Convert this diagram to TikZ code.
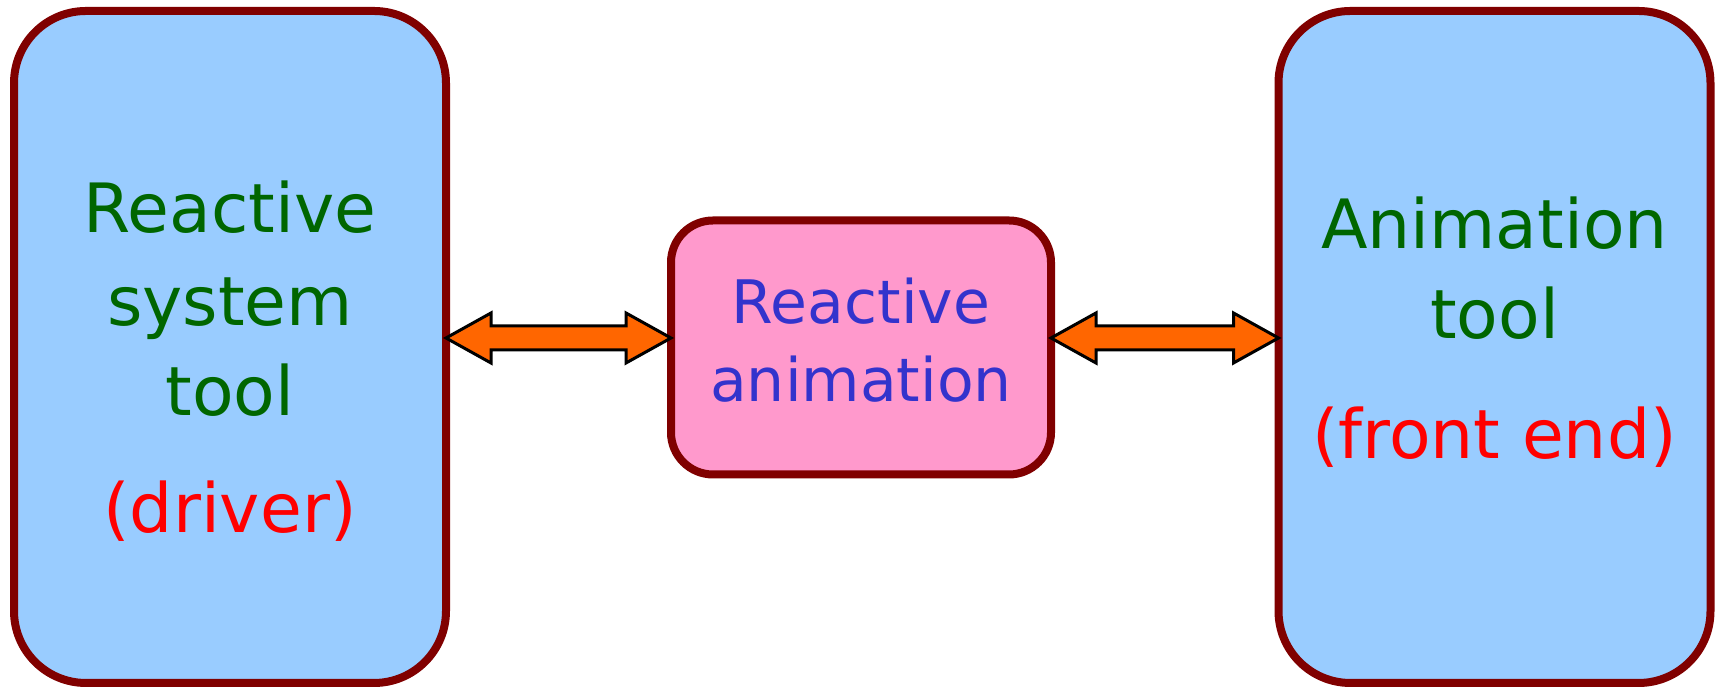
\documentclass[tikz,border=0pt]{standalone}
\usepackage{fontspec}
\setmainfont{DejaVu Sans}
\usetikzlibrary{calc}
\definecolor{boxblue}{HTML}{99CCFF}
\definecolor{boxedge}{HTML}{800000}
\definecolor{boxpink}{HTML}{FF99CC}
\definecolor{titlegreen}{HTML}{006600}
\definecolor{titleblue}{HTML}{3333CC}
\definecolor{arroworange}{HTML}{FF6600}
% block double arrow between two points #1 (left tip) and #2 (right tip)
\newcommand\twoheadpath[2]{%
  (#1) -- ($(#1)+(45,25)$) -- ($(#1)+(45,12)$) -- ($(#2)+(-45,12)$) --
  ($(#2)+(-45,25)$) -- (#2) -- ($(#2)+(-45,-25)$) -- ($(#2)+(-45,-12)$) --
  ($(#1)+(45,-12)$) -- ($(#1)+(45,-25)$) -- cycle}
\begin{document}
\begin{tikzpicture}[x=0.5pt,y=0.5pt,
  toolbox/.style={draw=boxedge, line width=4pt, fill=boxblue, rounded corners=36pt,
    minimum width=216pt, minimum height=336pt, outer sep=0pt, inner sep=0pt},
  animbox/.style={draw=boxedge, line width=4pt, fill=boxpink, rounded corners=21pt,
    minimum width=190pt, minimum height=127pt, outer sep=0pt, inner sep=0pt},
  bigtext/.style={anchor=base, inner sep=0pt, font=\fontsize{34}{40}\selectfont, text=titlegreen},
  note/.style={bigtext, text=red},
  midtext/.style={anchor=base, inner sep=0pt, font=\fontsize{30}{36}\selectfont, text=titleblue},
  dblarrow/.style={draw=black, line width=1.5pt, fill=arroworange, line join=miter}]
\useasboundingbox (0,0) rectangle (1715,688);

% the three blocks
\node[toolbox] (L) at (230,341) {};
\node[toolbox] (R) at (1494.5,341) {};
\node[animbox] (M) at (861,340.5) {};

% left block text
\node[bigtext] (l1) at (230,455) {Reactive};
\node[bigtext] (l2) at (230,362) {system};
\node[bigtext] (l3) at (230,272) {tool};
\node[note] (l4) at (230,155) {(driver)};

% right block text
\node[bigtext] (r1) at (1494.5,439) {Animation};
\node[bigtext] (r2) at (1494.5,349) {tool};
\node[note] (r3) at (1494.5,229) {(front end)};

% middle block text
\node[midtext] (m1) at (861,364) {Reactive};
\node[midtext] (m2) at (861,286) {animation};

% connectors
\coordinate (t1) at ($(L.east)+(0,9)$);
\coordinate (t2) at (M.west |- t1);
\coordinate (t3) at (M.east |- t1);
\coordinate (t4) at (R.west |- t1);
\draw[dblarrow] \twoheadpath{t1}{t2};
\draw[dblarrow] \twoheadpath{t3}{t4};
\end{tikzpicture}
\end{document}
